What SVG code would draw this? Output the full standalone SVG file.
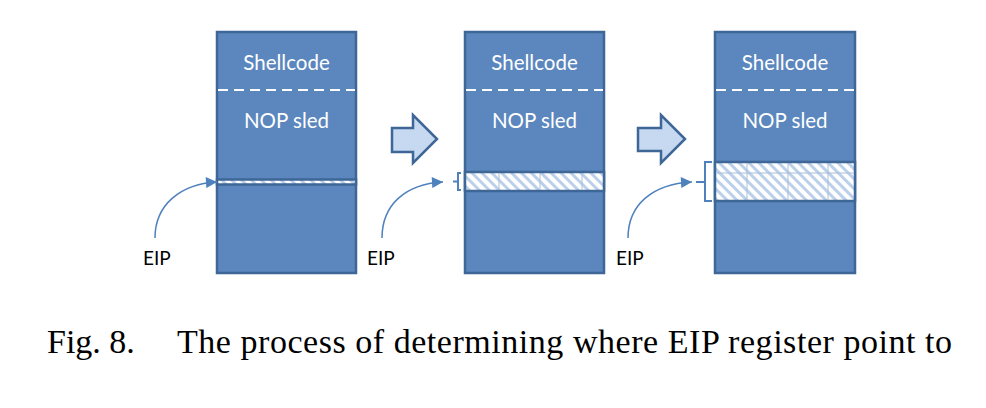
<svg xmlns="http://www.w3.org/2000/svg" width="986" height="408" viewBox="0 0 986 408">
<style>
.col{fill:#5B87BE;stroke:#3E6696;stroke-width:2.5}
.dash{stroke:#FFFFFF;stroke-width:2;stroke-dasharray:10 6;fill:none}
.lbl{font-family:Lato,"Open Sans","Liberation Sans",sans-serif;font-size:20.5px;fill:#FFFFFF;text-anchor:middle}
.eip{font-family:Lato,"Open Sans","Liberation Sans",sans-serif;font-size:19px;fill:#000000}
.band{fill:url(#hatch);stroke:#3E6696;stroke-width:2.5}
.cell{stroke:#A9BED8;stroke-width:1;fill:none}
.brace{stroke:#4F81BD;stroke-width:2;fill:none}
.conn{stroke:#4F81BD;stroke-width:1.5;fill:none}
.blk{fill:#C6D9F1;stroke:#3E6696;stroke-width:2.5;stroke-linejoin:miter}
.cap{font-family:"Liberation Serif","Times New Roman",serif;font-size:34px;fill:#000000}
</style>
<defs>
<pattern id="hatch" patternUnits="userSpaceOnUse" width="7" height="7" patternTransform="rotate(-45)">
<rect width="7" height="7" fill="#FFFFFF"/>
<line x1="1.5" y1="0" x2="1.5" y2="7" stroke="#BCD0EA" stroke-width="3"/>
</pattern>
<marker id="ah" viewBox="0 0 10 10" refX="10" refY="5" markerWidth="12" markerHeight="11" markerUnits="userSpaceOnUse" orient="auto">
<path d="M0,0 L10,5 L0,10 z" fill="#4F81BD"/>
</marker>
</defs>

<g id="stack1">
<rect class="col" x="217" y="32" width="139" height="241"/>
<line class="dash" x1="218" y1="90" x2="355" y2="90"/>
<text class="lbl" x="286.5" y="70">Shellcode</text>
<text class="lbl" x="286.5" y="128">NOP sled</text>
<rect class="band" x="217" y="179.5" width="139" height="5"/>
</g>

<g id="stack2">
<rect class="col" x="465" y="32" width="139" height="241"/>
<line class="dash" x1="466" y1="90" x2="603" y2="90"/>
<text class="lbl" x="534.5" y="70">Shellcode</text>
<text class="lbl" x="534.5" y="128">NOP sled</text>
<rect class="band" x="465" y="172" width="139" height="19"/>
<line class="cell" x1="499" y1="173" x2="499" y2="190"/>
<line class="cell" x1="540" y1="173" x2="540" y2="190"/>
<line class="cell" x1="582" y1="173" x2="582" y2="190"/>
</g>

<g id="stack3">
<rect class="col" x="715" y="32" width="140" height="241"/>
<line class="dash" x1="716" y1="90" x2="854" y2="90"/>
<text class="lbl" x="785" y="70">Shellcode</text>
<text class="lbl" x="785" y="128">NOP sled</text>
<rect class="band" x="715" y="162" width="140" height="39"/>
<line class="cell" x1="716" y1="173" x2="854" y2="173"/>
<line class="cell" x1="747" y1="163" x2="747" y2="200"/>
<line class="cell" x1="788" y1="163" x2="788" y2="200"/>
<line class="cell" x1="828" y1="163" x2="828" y2="200"/>
</g>

<g id="step-arrow1">
<polygon class="blk" points="392,128 413,128 413,115 437,139 413,163 413,152 392,152"/>
</g>
<g id="step-arrow2">
<polygon class="blk" points="638,128 661,128 661,115 685,139 661,163 661,151 638,151"/>
</g>

<g id="brace2">
<path class="brace" d="M461,173 L458,173 L458,181.5 L453,181.5 M458,181.5 L458,190 L461,190"/>
</g>
<g id="brace3">
<path class="brace" d="M712,162 L705,162 L705,182 L696,182 M705,182 L705,201 L712,201"/>
</g>

<g id="eip1"><text class="eip" x="143" y="265">EIP</text></g>
<g id="eip2"><text class="eip" x="367" y="265">EIP</text></g>
<g id="eip3"><text class="eip" x="616" y="265">EIP</text></g>

<g id="connectors">
<path class="conn" d="M155,238 C155,205 180,184 217,182" marker-end="url(#ah)"/>
<path class="conn" d="M382,238 C382,205 405,184 443,182" marker-end="url(#ah)"/>
<path class="conn" d="M628,238 C628,205 652,184 692,182" marker-end="url(#ah)"/>
</g>

<g id="caption">
<text class="cap" x="47" y="353">Fig. 8.</text>
<text class="cap" x="177" y="353" textLength="775" lengthAdjust="spacing">The process of determining where EIP register point to</text>
</g>
</svg>
